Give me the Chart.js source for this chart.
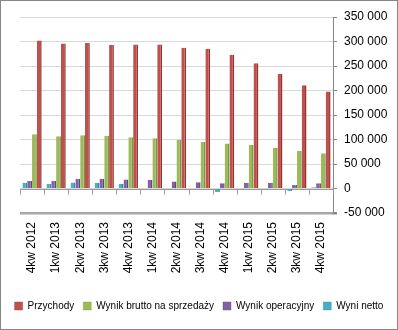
<!DOCTYPE html>
<html>
<head>
<meta charset="utf-8">
<script src="https://cdn.jsdelivr.net/npm/chart.js@4"></script>
<style>
html,body{margin:0;padding:0;background:#fff;}
#wrap{width:398px;height:330px;position:relative;}
</style>
</head>
<body>
<div id="wrap"><canvas id="c" width="398" height="330"></canvas></div>
<script>
const categories = ['4kw 2012','1kw 2013','2kw 2013','3kw 2013','4kw 2013','1kw 2014','2kw 2014','3kw 2014','4kw 2014','1kw 2015','2kw 2015','3kw 2015','4kw 2015'];
const przychody = [302000, 296000, 297000, 293500, 294000, 294000, 287000, 285000, 273000, 255500, 234000, 210500, 198000];
const brutto = [110500, 106500, 108500, 107500, 104500, 102500, 99500, 95000, 92000, 89500, 83000, 77000, 72000];
const operacyjny = [15500, 15500, 20000, 20000, 18500, 18000, 14500, 13000, 10500, 11500, 11500, 7000, 10500];
const netto = [11500, 9000, 12500, 11000, 9000, 1000, 500, 500, -7000, 500, 500, -5000, 2500];
const yTicks = [-50000, 0, 50000, 100000, 150000, 200000, 250000, 300000, 350000];

const FONT = "'Liberation Sans', Arial, sans-serif";

function fmt(v){
  const s = Math.abs(v).toString().replace(/\B(?=(\d{3})+(?!\d))/g, ' ');
  return (v < 0 ? '-' : '') + s;
}

const bgPlugin = {
  id: 'bg',
  beforeDraw(chart){
    const ctx = chart.ctx;
    ctx.save();
    ctx.fillStyle = '#fff';
    ctx.fillRect(0,0,chart.width,chart.height);
    ctx.restore();
  },
  afterDraw(chart){
    const ctx = chart.ctx;
    ctx.save();
    ctx.strokeStyle = '#868686';
    ctx.lineWidth = 1;
    ctx.strokeRect(0.5,0.5,chart.width-1,chart.height-1);
    ctx.restore();
  }
};

const zeroPlugin = {
  id: 'zeroTicks',
  beforeDatasetsDraw(chart){
    const ctx = chart.ctx, a = chart.chartArea;
    const y0 = Math.round(chart.scales.y.getPixelForValue(0)) + 0.5;
    const n = categories.length;
    const w = (a.right - a.left) / n;
    ctx.save();
    ctx.strokeStyle = '#9a9a9a';
    ctx.lineWidth = 1;
    ctx.beginPath();
    ctx.moveTo(a.left, y0); ctx.lineTo(a.right, y0);
    for(let k=0;k<=n;k++){
      const x = Math.round(a.left + k*w) + 0.5;
      ctx.moveTo(x, y0); ctx.lineTo(x, y0+5);
    }
    ctx.stroke();
    ctx.restore();
  }
};

function ds(label, data, color, dark){
  return {
    label, data,
    backgroundColor: color,
    borderColor: dark,
    borderWidth: {top:0,left:0,bottom:0,right:1.5},
    borderSkipped: false,
    categoryPercentage: 0.8,
    barPercentage: 1.0,
    yAxisID: 'y'
  };
}

new Chart(document.getElementById('c'), {
  type: 'bar',
  data: {
    labels: categories,
    datasets: [
      ds('Wyni netto', netto, '#4BACC6', '#2f8aa3'),
      ds('Wynik operacyjny', operacyjny, '#8064A2', '#5e477d'),
      ds('Wynik brutto na sprzedaży', brutto, '#9BBB59', '#779640'),
      ds('Przychody', przychody, '#C0504D', '#933633')
    ]
  },
  options: {
    responsive: false,
    animation: false,
    devicePixelRatio: 1,
    layout: { padding: { left: 0, right: 0, top: 17, bottom: 9 } },
    plugins: {
      legend: {
        position: 'bottom',
        reverse: true,
        labels: {
          boxWidth: 8, boxHeight: 8, padding: 9,
          color: '#000',
          font: { family: FONT, size: 10 }
        }
      },
      tooltip: { enabled: false }
    },
    scales: {
      x: {
        grid: { display: false },
        border: { display: false },
        afterFit(scale){ scale.height = 79; },
        ticks: {
          minRotation: 90, maxRotation: 90, autoSkip: false,
          padding: 1, color: '#000',
          font: { family: FONT, size: 12 }
        }
      },
      yl: {
        type: 'linear',
        position: 'left',
        display: true,
        grid: { display: false },
        border: { display: false },
        ticks: { display: false },
        afterFit(scale){ scale.width = 20; }
      },
      y: {
        position: 'right',
        min: -50000, max: 350000,
        afterBuildTicks(scale){ scale.ticks = yTicks.map(v => ({value: v})); },
        afterFit(scale){ scale.width = 65; },
        grid: {
          color: ctx => (ctx.tick && ctx.tick.value === -50000) ? '#a6a6a6' : '#d9d9d9',
          lineWidth: ctx => (ctx.tick && ctx.tick.value === -50000) ? 2.5 : 1,
          tickColor: '#868686',
          tickLength: 4
        },
        border: { color: '#868686', width: 1 },
        ticks: {
          padding: 7, color: '#000',
          font: { family: FONT, size: 12 },
          callback: v => fmt(v)
        }
      }
    }
  },
  plugins: [bgPlugin, zeroPlugin]
});
</script>
</body>
</html>
